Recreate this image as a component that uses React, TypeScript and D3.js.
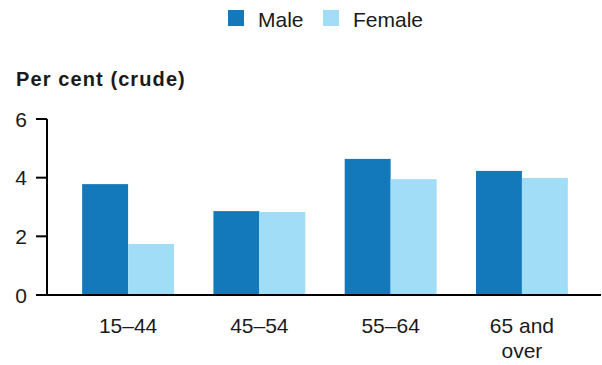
import React from 'react';
import * as d3 from 'd3';

type Row = {
  group: string[];
  male: number;
  female: number;
};

const categories = [["15–44"], ["45–54"], ["55–64"], ["65 and", "over"]];
const maleValues = [3.78, 2.86, 4.64, 4.23];
const femaleValues = [1.74, 2.83, 3.95, 3.99];
const yTicks = [0, 2, 4, 6];
const seriesNames = ["Male", "Female"];

const colors = ["#1479bb", "#a2ddf7"];

const WIDTH = 602;
const HEIGHT = 365;
const AXIS_X = 47;
const TOP_Y = 119;
const BASE_Y = 295;
const RIGHT_X = 601;
const FONT = "'Liberation Sans', Arial, sans-serif";

const App: React.FC = () => {
  const rows: Row[] = categories.map((c, i) => ({
    group: c,
    male: maleValues[i],
    female: femaleValues[i],
  }));

  const x0 = d3
    .scaleBand<number>()
    .domain(rows.map((_, i) => i))
    .range([AXIS_X + 1, RIGHT_X + 1])
    .paddingInner(0.3)
    .paddingOuter(0.26);

  const x1 = d3
    .scaleBand<string>()
    .domain(seriesNames)
    .range([0, x0.bandwidth()]);

  const y = d3.scaleLinear().domain([0, 6]).range([BASE_Y, TOP_Y]);

  return (
    <svg
      width={WIDTH}
      height={HEIGHT}
      style={{ position: "absolute", left: 0, top: 0, fontFamily: FONT }}
    >
      {/* legend */}
      {seriesNames.map((name, i) => {
        const lx = i === 0 ? 228 : 323;
        return (
          <g key={name}>
            <rect x={lx} y={10} width={16} height={16} fill={colors[i]} />
            <text x={lx + 30} y={27} fontSize={21} fill="#1a1a1a">
              {name}
            </text>
          </g>
        );
      })}

      {/* axis title */}
      <text x={16} y={86} fontSize={20} fontWeight="bold" fill="#1a1a1a" letterSpacing={1.1}>
        Per cent (crude)
      </text>

      {/* bars */}
      {rows.map((r, i) => (
        <g key={i} transform={`translate(${x0(i)},0)`}>
          {[r.male, r.female].map((v, j) => (
            <rect
              key={j}
              x={x1(seriesNames[j])}
              y={y(v)}
              width={x1.bandwidth()}
              height={y(0) - y(v)}
              fill={colors[j]}
            />
          ))}
        </g>
      ))}

      {/* y axis */}
      <line x1={AXIS_X} x2={AXIS_X} y1={TOP_Y} y2={BASE_Y} stroke="#000" strokeWidth={2} />
      {yTicks.map((t) => (
        <g key={t}>
          <line x1={36} x2={AXIS_X} y1={y(t)} y2={y(t)} stroke="#000" strokeWidth={2} />
          <text
            x={27}
            y={y(t)}
            dy="0.36em"
            textAnchor="end"
            fontSize={21}
            fill="#1a1a1a"
          >
            {t}
          </text>
        </g>
      ))}

      {/* baseline */}
      <line x1={36} x2={RIGHT_X} y1={BASE_Y} y2={BASE_Y} stroke="#000" strokeWidth={2} />

      {/* category labels */}
      {rows.map((r, i) => (
        <text
          key={i}
          x={(x0(i) ?? 0) + x0.bandwidth() / 2}
          y={333}
          textAnchor="middle"
          fontSize={21}
          fill="#1a1a1a"
        >
          {r.group.map((line, k) => (
            <tspan key={k} x={(x0(i) ?? 0) + x0.bandwidth() / 2} dy={k === 0 ? 0 : 25}>
              {line}
            </tspan>
          ))}
        </text>
      ))}
    </svg>
  );
};

export default App;
